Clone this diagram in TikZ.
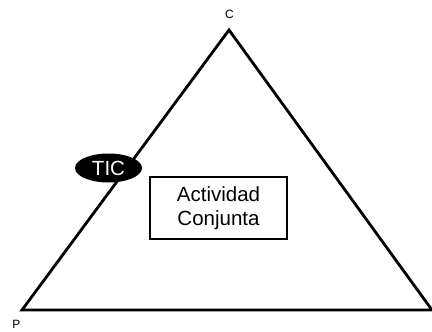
\documentclass[tikz,border=0pt]{standalone}
\usepackage{fontspec}
\setmainfont{Liberation Sans}
\usetikzlibrary{shapes.geometric}
\begin{document}
\begin{tikzpicture}[x=1pt,y=-1pt,
  edge/.style={line width=2.8pt, line join=miter},
  vlabel/.style={font=\fontsize{12}{14}\selectfont, inner sep=0pt},
  tic/.style={ellipse, fill=black, minimum width=67pt, minimum height=29pt, inner sep=0pt,
    text=white, font=\fontsize{20.5}{24}\selectfont},
  actbox/.style={draw, line width=2.8pt, minimum width=137pt, minimum height=62pt, inner sep=0pt,
    align=center, font=\fontsize{20.5}{23.4}\selectfont}]
  \useasboundingbox (0,0) rectangle (432,332);
  % triangle corners
  \coordinate (C) at (229,30);
  \coordinate (P) at (22,310);
  \coordinate (A) at (432,310);
  \draw[edge] (P) -- (C) -- (A) -- cycle;
  % corner labels
  \node[vlabel, anchor=base] (lc) at (229.5,19) {C};
  \node[vlabel, anchor=base] (lp) at (16.5,328) {P};
  % mediating element on the left side
  \node[tic] (tic) at (108.5,168) {TIC};
  % joint activity box
  \node[actbox] (act) at (218.5,208) {Actividad\\Conjunta};
\end{tikzpicture}
\end{document}
